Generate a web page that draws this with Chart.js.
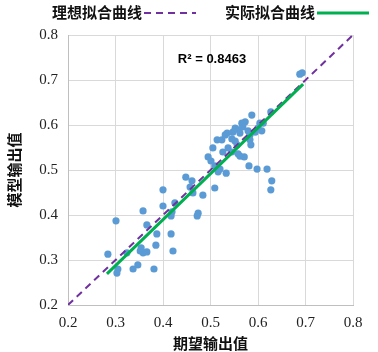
<!DOCTYPE html>
<html>
<head>
<meta charset="utf-8">
<script src="https://cdn.jsdelivr.net/npm/chart.js@4"></script>
<style>
  html, body { margin: 0; padding: 0; background: #fff; }
  #wrap { width: 378px; height: 352px; }
</style>
</head>
<body>
<div id="wrap"><canvas id="chart" width="378" height="352"></canvas></div>
<script>
// 期望输出值 / 模型输出值
const expected = [0.284, 0.301, 0.303, 0.305, 0.324, 0.337, 0.347, 0.352, 0.358, 0.366,
    0.354, 0.381, 0.385, 0.387, 0.417, 0.421, 0.358, 0.366, 0.400, 0.417,
    0.419, 0.425, 0.400, 0.472, 0.474, 0.484, 0.457, 0.463, 0.509, 0.448,
    0.461, 0.505, 0.495, 0.501, 0.514, 0.509, 0.520, 0.516, 0.533, 0.524,
    0.535, 0.531, 0.537, 0.526, 0.545, 0.545, 0.552, 0.552, 0.547, 0.560,
    0.562, 0.566, 0.573, 0.568, 0.579, 0.583, 0.583, 0.585, 0.594, 0.556,
    0.558, 0.562, 0.571, 0.581, 0.587, 0.604, 0.611, 0.600, 0.608, 0.598,
    0.619, 0.627, 0.629, 0.627, 0.693, 0.688];
const model = [0.313, 0.387, 0.271, 0.280, 0.316, 0.280, 0.289, 0.320, 0.316, 0.318,
    0.327, 0.280, 0.333, 0.358, 0.358, 0.320, 0.409, 0.378, 0.420, 0.398,
    0.407, 0.427, 0.456, 0.398, 0.404, 0.444, 0.462, 0.449, 0.460, 0.484,
    0.476, 0.549, 0.529, 0.520, 0.567, 0.509, 0.502, 0.496, 0.493, 0.567,
    0.582, 0.578, 0.549, 0.540, 0.540, 0.569, 0.564, 0.593, 0.584, 0.589,
    0.582, 0.604, 0.607, 0.596, 0.587, 0.578, 0.567, 0.556, 0.584, 0.556,
    0.536, 0.531, 0.529, 0.509, 0.622, 0.604, 0.604, 0.593, 0.587, 0.502,
    0.502, 0.629, 0.476, 0.456, 0.716, 0.713];

// 理想拟合曲线 y = x
const idealX = [0.2, 0.8];
const idealY = [0.2, 0.8];
// 实际拟合曲线
const fitX = [0.282, 0.695];
const fitY = [0.269, 0.691];

const axisTicks = [0.2, 0.3, 0.4, 0.5, 0.6, 0.7, 0.8];
const rSquared = 'R² = 0.8463';

const toPoints = (xs, ys) => xs.map((x, i) => ({ x: x, y: ys[i] }));

// legend: text first, line sample after it
const topLegend = {
    id: 'topLegend',
    afterDraw(chart) {
        const c = chart.ctx;
        const items = [
            { ds: chart.data.datasets[1], x: 52 },
            { ds: chart.data.datasets[2], x: 225 }
        ];
        c.save();
        c.font = 'bold 15px "Noto Sans CJK SC"';
        c.textBaseline = 'middle';
        c.fillStyle = '#111';
        items.forEach(it => {
            c.textAlign = 'left';
            c.fillText(it.ds.label, it.x, 12);
            const w = c.measureText(it.ds.label).width;
            c.beginPath();
            c.strokeStyle = it.ds.borderColor;
            c.lineWidth = it.ds.borderWidth;
            c.setLineDash(it.ds.borderDash || []);
            c.moveTo(it.x + w + 2, 13);
            c.lineTo(it.x + w + 54, 13);
            c.stroke();
        });
        c.setLineDash([]);
        c.font = 'bold 13px "Liberation Sans"';
        c.textAlign = 'center';
        c.fillStyle = '#000';
        c.fillText(rSquared, 212, 59);
        c.restore();
    }
};

const ctx = document.getElementById('chart').getContext('2d');
new Chart(ctx, {
    data: {
        datasets: [{
            type: 'scatter',
            label: '数据',
            data: toPoints(expected, model),
            backgroundColor: '#5B9BD5',
            borderWidth: 0,
            pointRadius: 3.6,
            order: 2
        }, {
            type: 'line',
            label: '理想拟合曲线',
            data: toPoints(idealX, idealY),
            borderColor: '#7030A0',
            borderWidth: 2,
            borderDash: [7, 5],
            pointRadius: 0,
            order: 1
        }, {
            type: 'line',
            label: '实际拟合曲线',
            data: toPoints(fitX, fitY),
            borderColor: '#00B050',
            borderWidth: 3,
            pointRadius: 0,
            order: 0
        }]
    },
    options: {
        responsive: false,
        animation: false,
        layout: { padding: { left: 0, right: 25, top: 35, bottom: 0 } },
        plugins: { legend: { display: false }, tooltip: { enabled: false } },
        scales: {
            x: {
                type: 'linear',
                min: 0.2, max: 0.8,
                afterBuildTicks: s => { s.ticks = axisTicks.map(v => ({ value: v })); },
                afterFit: s => { s.height = 47; },
                grid: { color: '#D9D9D9', drawTicks: false },
                border: { color: '#BFBFBF' },
                ticks: {
                    padding: 9,
                    color: '#222',
                    font: { family: 'Liberation Serif', size: 15 },
                    callback: v => v.toFixed(1)
                },
                title: {
                    display: true,
                    text: '期望输出值',
                    color: '#111',
                    padding: { top: 0, bottom: 0 },
                    font: { family: 'Noto Sans CJK SC', size: 15, weight: 'bold' }
                }
            },
            y: {
                type: 'linear',
                min: 0.2, max: 0.8,
                afterBuildTicks: s => { s.ticks = axisTicks.map(v => ({ value: v })); },
                afterFit: s => { s.width = 68; },
                grid: { color: '#D9D9D9', drawTicks: false },
                border: { color: '#BFBFBF' },
                ticks: {
                    padding: 10,
                    color: '#222',
                    font: { family: 'Liberation Serif', size: 15 },
                    callback: v => v.toFixed(1)
                },
                title: {
                    display: true,
                    text: '模型输出值',
                    color: '#111',
                    padding: { top: 5, bottom: 0 },
                    font: { family: 'Noto Sans CJK SC', size: 15, weight: 'bold' }
                }
            }
        }
    },
    plugins: [topLegend]
});
</script>
</body>
</html>
